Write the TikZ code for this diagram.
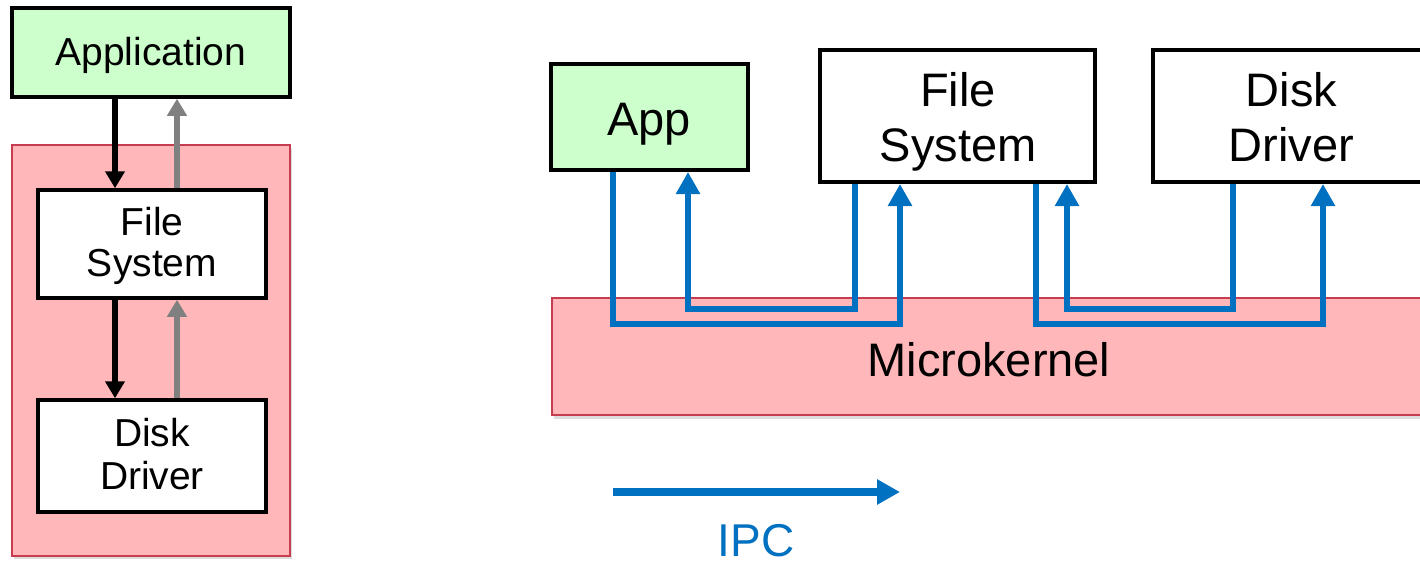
\documentclass[tikz,border=0pt]{standalone}
\usepackage{fontspec}
\setmainfont{Liberation Sans}
\usetikzlibrary{arrows.meta}
\definecolor{appgreen}{RGB}{204,255,204}
\definecolor{kernpink}{RGB}{255,183,185}
\definecolor{kernedge}{RGB}{200,60,80}
\definecolor{ipcblue}{RGB}{0,112,192}
\definecolor{retgray}{RGB}{128,128,128}
\tikzset{
  kernel/.style={draw=kernedge, line width=1.2pt, fill=kernpink, inner sep=0pt},
  smallbox/.style={draw=black, line width=3.5pt, fill=white, inner sep=0pt},
  bigbox/.style={draw=black, line width=4pt, fill=white, inner sep=0pt},
  smalltxt/.style={anchor=base, inner sep=0pt, font=\fontsize{39}{47}\selectfont},
  bigtxt/.style={anchor=base, inner sep=0pt, font=\fontsize{47}{56}\selectfont},
  callarrow/.style={line width=6pt, draw=black, -{Triangle[length=17pt,width=19pt]}},
  retarrow/.style={line width=6.5pt, draw=retgray, -{Triangle[length=17pt,width=19pt]}},
  ipcpath/.style={line width=6.5pt, draw=ipcblue, -{Triangle[length=22pt,width=23pt]}},
}
\begin{document}
\begin{tikzpicture}[x=1pt,y=-1pt]
\useasboundingbox (0,0) rectangle (1420,562);

% ---------- monolithic kernel (left) ----------
\fill[gray!45, opacity=0.6] (14,149) rectangle (292,559);
\node[kernel, minimum width=278pt, minimum height=411pt] (monok) at (151,350.5) {};
\node[smallbox, fill=appgreen, minimum width=278pt, minimum height=89pt] (appl) at (151,52.5) {};
\node[smallbox, minimum width=228pt, minimum height=108pt] (fsl) at (152,244) {};
\node[smallbox, minimum width=228pt, minimum height=112pt] (ddl) at (152,456) {};
\node[smalltxt] (applt) at (151,65) {Application};
\node[smalltxt] (fslt1) at (152,235) {File};
\node[smalltxt] (fslt2) at (152,276) {System};
\node[smalltxt] (ddlt1) at (152,446.5) {Disk};
\node[smalltxt] (ddlt2) at (152,489) {Driver};

\coordinate (dn) at (115,0);
\coordinate (up) at (177,0);
\draw[callarrow] (appl.south -| dn) -- (fsl.north -| dn);
\draw[callarrow] (fsl.south -| dn) -- (ddl.north -| dn);
\draw[retarrow] (fsl.north -| up) -- (appl.south -| up);
\draw[retarrow] (ddl.north -| up) -- (fsl.south -| up);

% ---------- microkernel (right) ----------
\fill[gray!45, opacity=0.6] (554,302) rectangle (1430,419);
\node[kernel, minimum width=878pt, minimum height=117pt] (mk) at (991,356.5) {};
\node[bigtxt] (mklabel) at (989,376.5) {Microkernel};

\node[bigbox, fill=appgreen, minimum width=197pt, minimum height=106pt] (app) at (649.5,117) {};
\node[bigbox, minimum width=275pt, minimum height=132pt] (fs) at (957.5,116) {};
\node[bigbox, minimum width=277pt, minimum height=132pt] (dd) at (1291.5,116) {};
\node[bigtxt] (appt) at (649,135) {App};
\node[bigtxt] (fst1) at (958,106) {File};
\node[bigtxt] (fst2) at (958,161.5) {System};
\node[bigtxt] (ddt1) at (1291.5,106.5) {Disk};
\node[bigtxt] (ddt2) at (1291.5,161.5) {Driver};

% IPC routes through the kernel
\coordinate (a1) at (613,324);
\coordinate (a2) at (900,324);
\coordinate (b1) at (855,309);
\coordinate (b2) at (688,309);
\coordinate (c1) at (1036,324);
\coordinate (c2) at (1323,324);
\coordinate (d1) at (1233,309);
\coordinate (d2) at (1067,309);
\draw[ipcpath] (app.south -| a1) -- (a1) -- (a2) -- (fs.south -| a2);
\draw[ipcpath] (fs.south -| b1) -- (b1) -- (b2) -- (app.south -| b2);
\draw[ipcpath] (fs.south -| c1) -- (c1) -- (c2) -- (dd.south -| c2);
\draw[ipcpath] (dd.south -| d1) -- (d1) -- (d2) -- (fs.south -| d2);

% legend
\coordinate (ipcs) at (613,492);
\coordinate (ipce) at (900,492);
\draw[line width=8pt, draw=ipcblue, -{Triangle[length=23pt,width=24pt]}] (ipcs) -- (ipce);
\node[anchor=base, inner sep=0pt, text=ipcblue, font=\fontsize{46}{55}\selectfont] (ipclabel) at (756,556.5) {IPC};
\end{tikzpicture}
\end{document}
